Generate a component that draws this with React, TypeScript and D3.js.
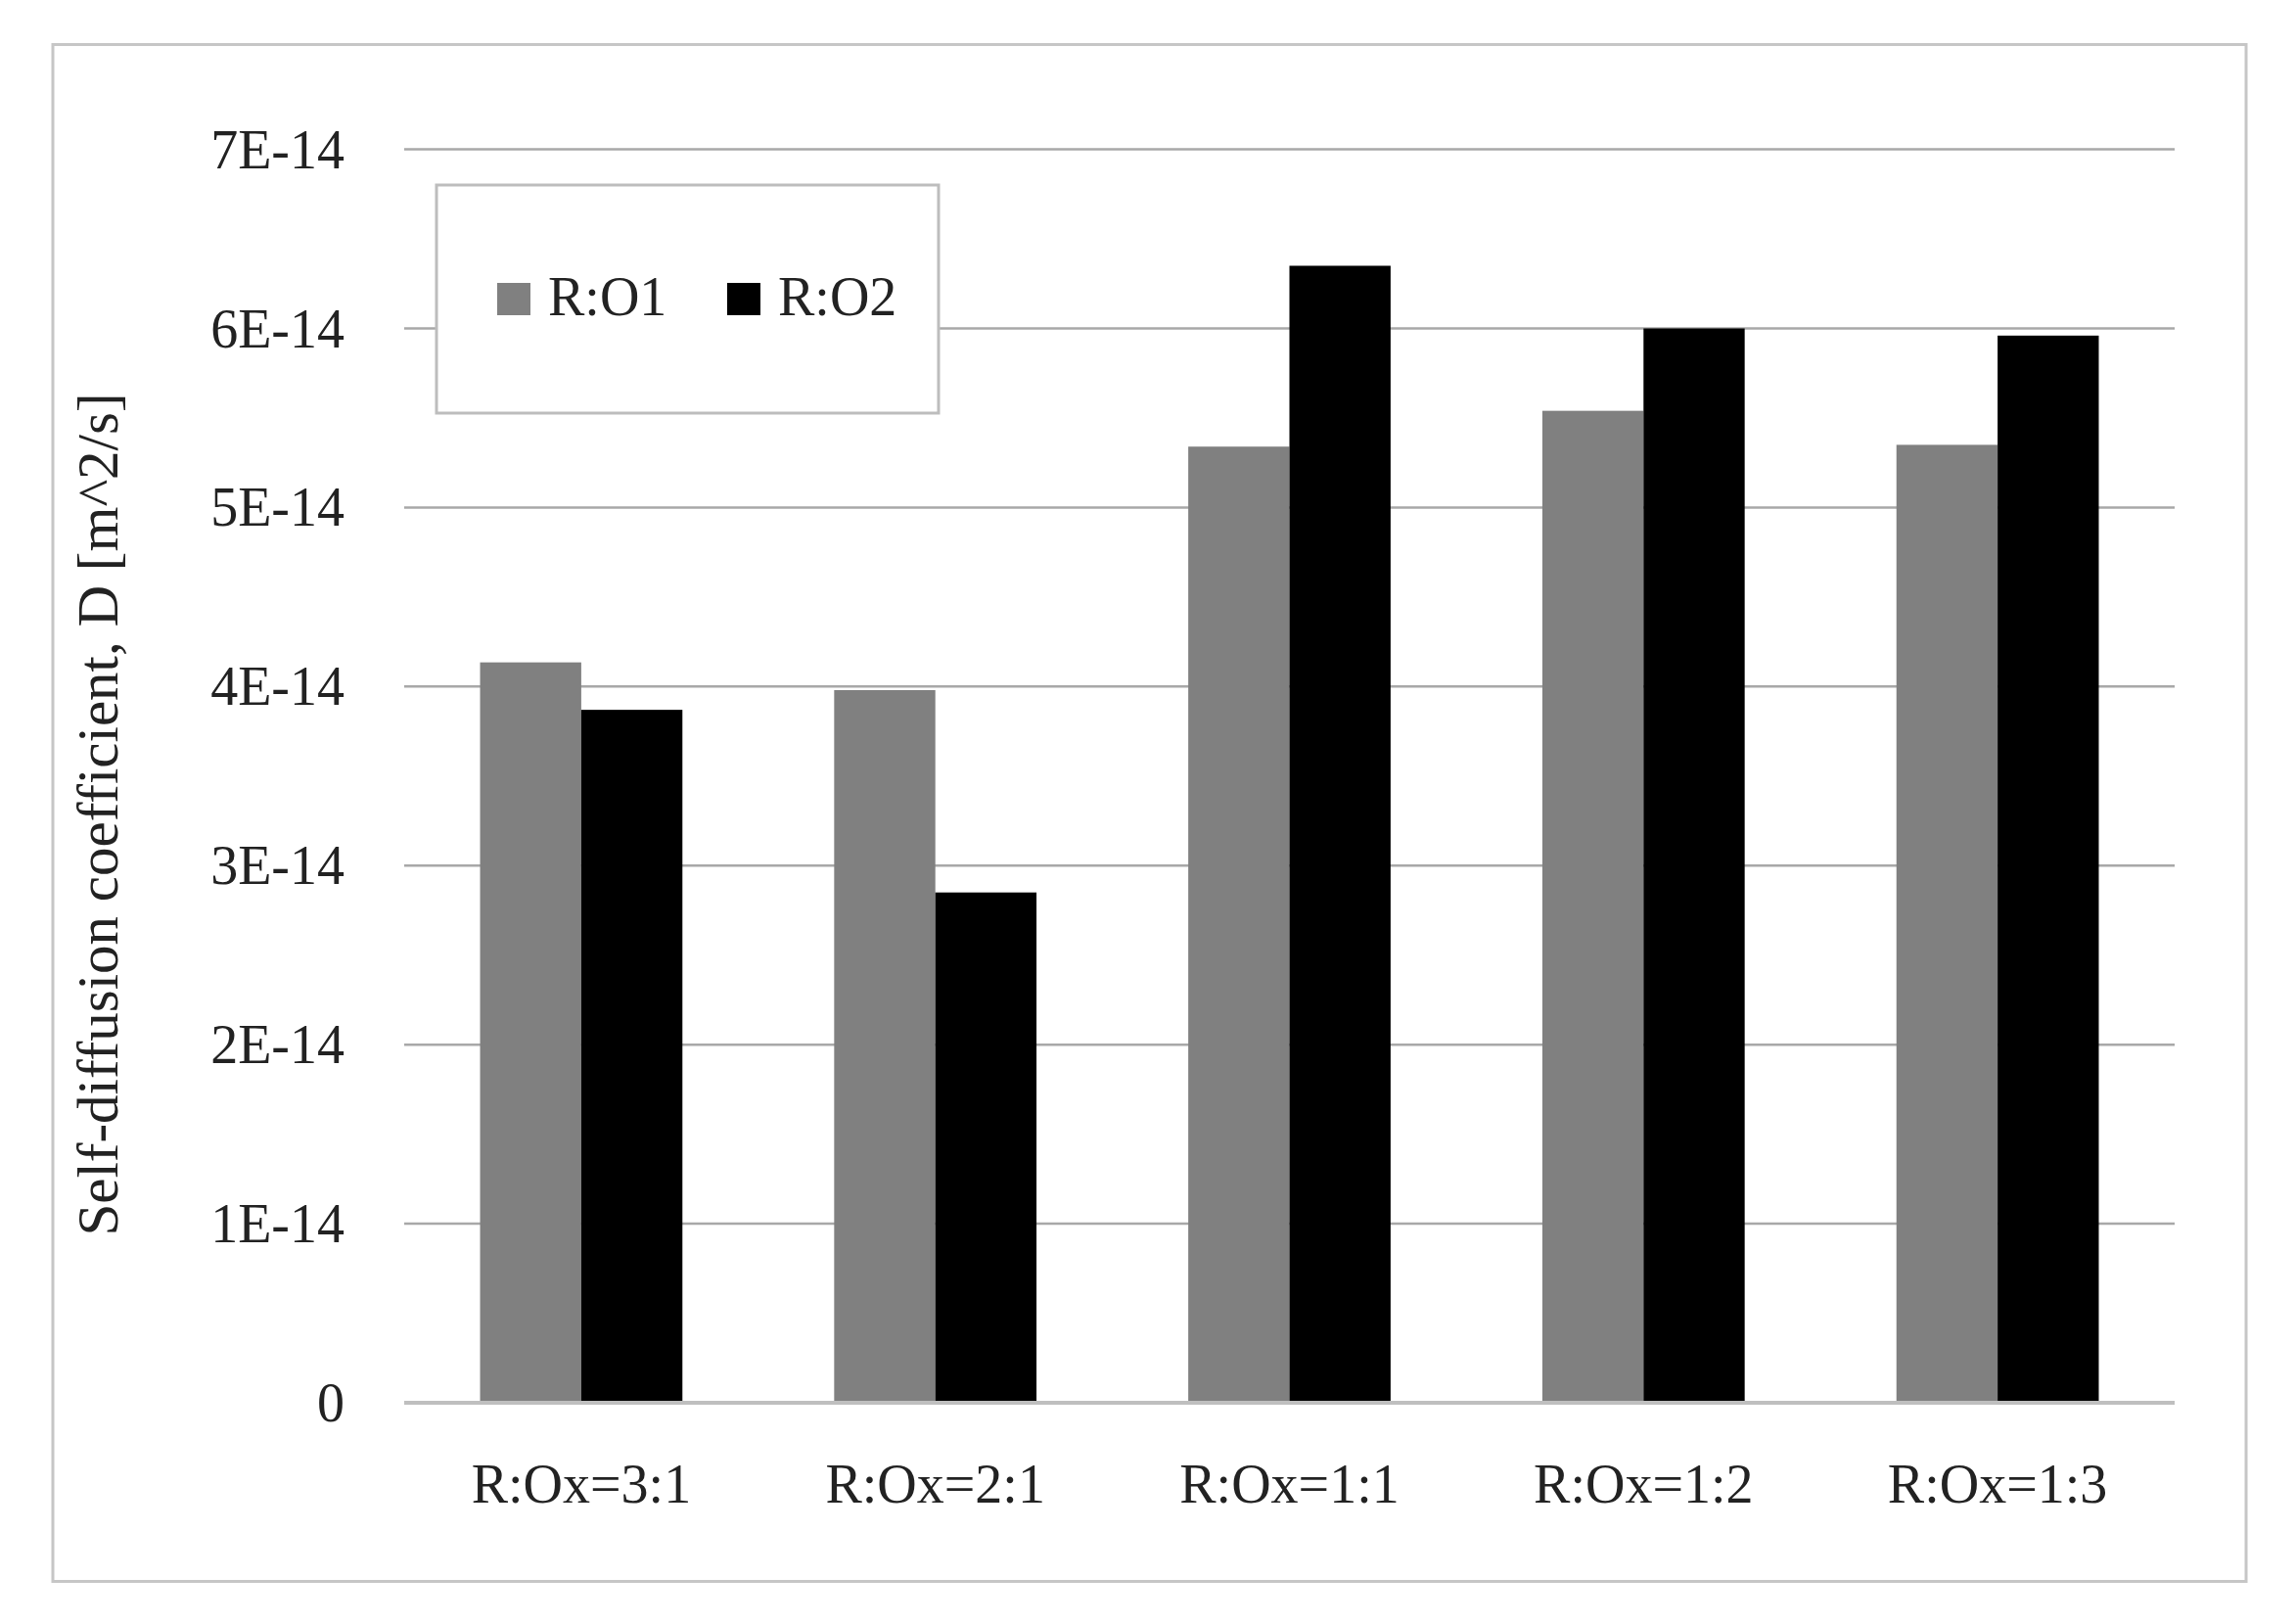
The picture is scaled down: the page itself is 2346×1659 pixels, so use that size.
import React from "react";
import * as d3 from "d3";

const categories = ["R:Ox=3:1", "R:Ox=2:1", "R:Ox=1:1", "R:Ox=1:2", "R:Ox=1:3"];
const seriesNames = ["R:O1", "R:O2"];
const seriesColors = ["#808080", "#000000"];
const ro1 = [4.135e-14, 3.98e-14, 5.34e-14, 5.54e-14, 5.35e-14];
const ro2 = [3.87e-14, 2.85e-14, 6.35e-14, 6.0e-14, 5.96e-14];
const yTicks = [0, 1e-14, 2e-14, 3e-14, 4e-14, 5e-14, 6e-14, 7e-14];
const yTickLabels = ["0", "1E-14", "2E-14", "3E-14", "4E-14", "5E-14", "6E-14", "7E-14"];
const yTitle = "Self-diffusion coefficient, D [m^2/s]";

const W = 2346;
const H = 1659;
const FONT = "'Liberation Serif', serif";

export default function App() {
  const left = 413, right = 2222, top = 152.6, bottom = 1433;
  const y = d3.scaleLinear().domain([0, 7e-14]).range([bottom, top]);
  const x0 = d3.scaleBand<string>().domain(categories).range([left, right]).paddingInner(0).paddingOuter(0);
  const x1 = d3.scaleBand<string>().domain(seriesNames).range([0, x0.bandwidth()]).paddingInner(0).paddingOuter(0.75);
  const series = [ro1, ro2];

  return (
    <svg width={W} height={H} style={{ position: "absolute", left: 0, top: 0, background: "#fff" }}>
      <rect x={0} y={0} width={W} height={H} fill="#fff" />
      <rect x={54} y={45.5} width={2241} height={1570} fill="#fff" stroke="#c6c6c6" strokeWidth={3} />
      {yTicks.map((t, i) => (
        <g key={i}>
          {i > 0 && <line x1={left} x2={right} y1={y(t)} y2={y(t)} stroke="#a8a8a8" strokeWidth={2.5} />}
          <text x={352} y={y(t)} dy="0.34em" textAnchor="end" fontFamily={FONT} fontSize={56} fill="#222">
            {yTickLabels[i]}
          </text>
        </g>
      ))}
      {categories.map((c, ci) => (
        <g key={c}>
          {series.map((s, si) => (
            <rect
              key={si}
              x={(x0(c) as number) + (x1(seriesNames[si]) as number)}
              y={y(s[ci])}
              width={x1.bandwidth()}
              height={bottom - y(s[ci])}
              fill={seriesColors[si]}
            />
          ))}
          <text x={(x0(c) as number) + x0.bandwidth() / 2} y={1535} textAnchor="middle" fontFamily={FONT} fontSize={56} fill="#222">
            {c}
          </text>
        </g>
      ))}
      <line x1={left} x2={right} y1={bottom} y2={bottom} stroke="#bfbfbf" strokeWidth={4} />
      <text
        transform={`translate(120,832) rotate(-90)`}
        textAnchor="middle"
        fontFamily={FONT}
        fontSize={59}
        fill="#222"
      >
        {yTitle}
      </text>
      <rect x={446} y={189} width={513} height={233} fill="#fff" stroke="#bdbdbd" strokeWidth={3} />
      {seriesNames.map((n, i) => {
        const lx = [508, 743][i];
        return (
          <g key={n}>
            <rect x={lx} y={289} width={34} height={33} fill={seriesColors[i]} />
            <text x={lx + 52} y={322} fontFamily={FONT} fontSize={56} fill="#222">
              {n}
            </text>
          </g>
        );
      })}
    </svg>
  );
}
